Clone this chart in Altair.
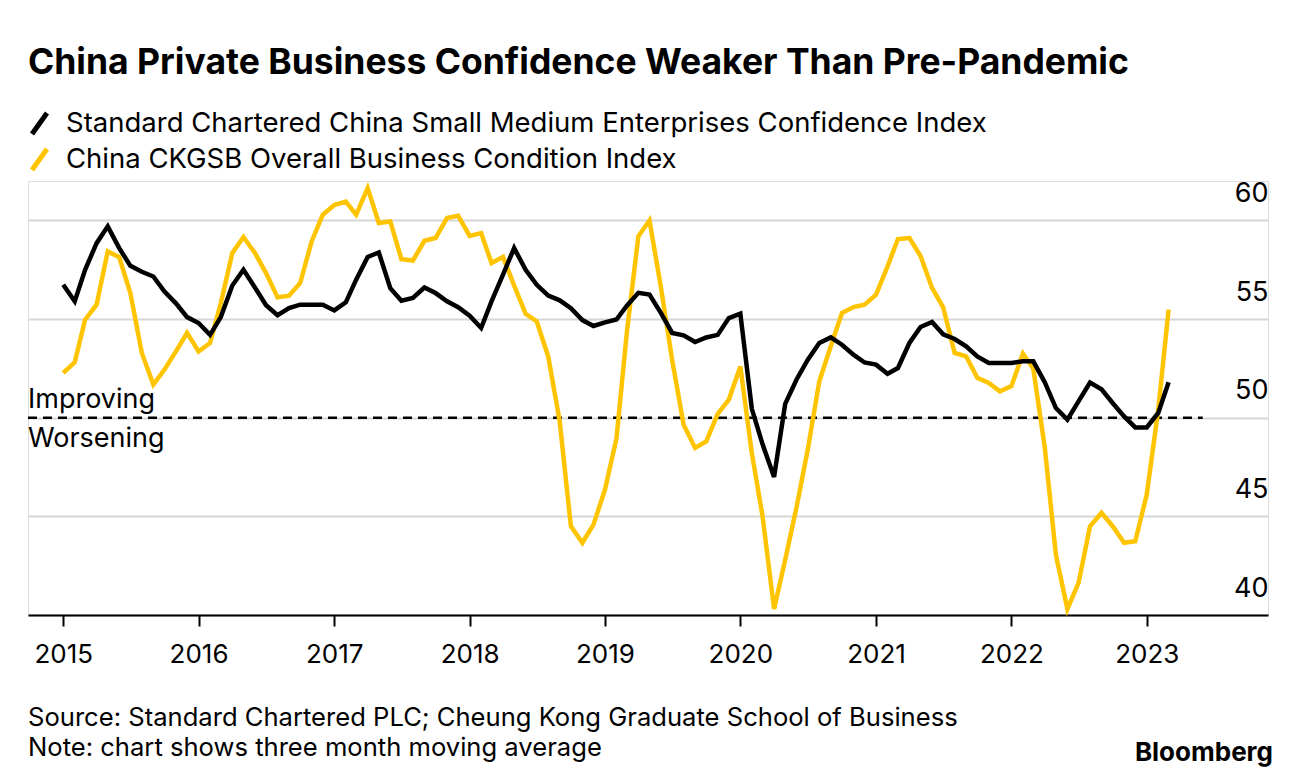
import altair as alt
import pandas as pd

# ---------------- data ----------------
start_month = "2015-01-01"
n_months = 99  # Jan 2015 .. Mar 2023

sc_sme = [56.74, 55.9, 57.5, 58.85, 59.7, 58.6, 57.7, 57.4, 57.16, 56.4, 55.8, 55.1,
          54.8, 54.2, 55.1, 56.7, 57.5, 56.6, 55.7, 55.2, 55.56, 55.73, 55.73, 55.73,
          55.44, 55.85, 57.0, 58.15, 58.38, 56.57, 55.93, 56.07, 56.6, 56.32, 55.9, 55.6,
          55.17, 54.55, 55.9, 57.25, 58.6, 57.5, 56.74, 56.19, 55.95, 55.55, 54.95, 54.65,
          54.83, 54.98, 55.68, 56.33, 56.24, 55.3, 54.3, 54.18, 53.84, 54.07, 54.2, 55.05,
          55.28, 50.45, 48.65, 47.0, 50.7, 51.95, 52.94, 53.79, 54.07, 53.7, 53.2, 52.8,
          52.69, 52.23, 52.52, 53.79, 54.6, 54.85, 54.23, 53.99, 53.62, 53.11, 52.78, 52.78,
          52.78, 52.86, 52.86, 51.8, 50.49, 49.9, 50.83, 51.78, 51.44, 50.75, 50.07, 49.51,
          49.51, 50.24, 51.8]

ckgsb = [52.27, 52.81, 54.97, 55.73, 58.43, 58.14, 56.32, 53.28, 51.68, 52.44, 53.36, 54.3,
         53.36, 53.79, 55.81, 58.35, 59.16, 58.35, 57.33, 56.1, 56.19, 56.83, 58.94, 60.29,
         60.78, 60.96, 60.29, 61.64, 59.87, 59.95, 58.04, 57.97, 58.97, 59.11, 60.12, 60.24,
         59.22, 59.36, 57.84, 58.15, 56.7, 55.27, 54.88, 53.1, 49.8, 44.5, 43.66, 44.58,
         46.36, 48.95, 54.33, 59.2, 60.0, 56.6, 52.94, 49.65, 48.47, 48.8, 50.2, 50.92,
         52.6, 48.2, 45.0, 40.3, 42.8, 45.5, 48.4, 51.85, 53.62, 55.31, 55.61, 55.73,
         56.24, 57.67, 59.06, 59.11, 58.2, 56.58, 55.6, 53.28, 53.11, 52.02, 51.76, 51.34,
         51.6, 53.25, 52.5, 48.5, 43.05, 40.3, 41.63, 44.5, 45.18, 44.5, 43.66, 43.74,
         46.1, 50.41, 55.48]

series_names = ["Standard Chartered China Small Medium Enterprises Confidence Index",
                "China CKGSB Overall Business Condition Index"]
series_colors = ["#000000", "#FFC400"]

year_ticks = list(range(2015, 2024))
y_ticks = [40, 45, 50, 55, 60]
threshold = 50
threshold_start = "2014-09-28"
threshold_end = "2023-06-01"
zone_labels = ["Improving", "Worsening"]

title_text = "China Private Business Confidence Weaker Than Pre-Pandemic"
source_text = "Source: Standard Chartered PLC; Cheung Kong Graduate School of Business"
note_text = "Note: chart shows three month moving average"
brand_text = "Bloomberg"

# ---------------- layout ----------------
W, H = 1240, 434
FONT = "Inter"

dates = pd.date_range(start_month, periods=n_months, freq="MS")
df_sc = pd.DataFrame({"date": dates, "value": sc_sme})
df_ck = pd.DataFrame({"date": dates, "value": ckgsb})

x_scale = alt.Scale(domain=[alt.DateTime(year=2014, month=9, date=28),
                            alt.DateTime(year=2023, month=11, date=24)])
y_scale = alt.Scale(domain=[40, 62], nice=False)

x_axis = alt.Axis(values=[alt.DateTime(year=y, month=1, date=1) for y in year_ticks],
                  format="%Y", title=None, grid=False, domain=True, domainColor="#000000",
                  domainWidth=2, ticks=True, tickColor="#000000", tickWidth=2, tickSize=11,
                  labelFontSize=26, labelFont=FONT, labelColor="#000000",
                  labelBaseline="alphabetic", labelPadding=36, labelFlush=False)
y_axis = alt.Axis(values=y_ticks, orient="right", title=None, grid=True, gridColor="#d6d6d6",
                  gridWidth=2, domain=False, ticks=False, tickSize=0, labelAlign="right",
                  labelPadding=0, labelBaseline="alphabetic", labelOffset=-19,
                  labelFontSize=27, labelFont=FONT, labelColor="#000000")

axes_layer = alt.Chart(df_sc).mark_line(opacity=0).encode(
    x=alt.X("date:T", scale=x_scale, axis=x_axis),
    y=alt.Y("value:Q", scale=y_scale, axis=y_axis),
)

ref_df = pd.DataFrame({"start": [threshold_start], "end": [threshold_end], "value": [threshold]})
ref_rule = alt.Chart(ref_df).mark_rule(color="#000000", strokeWidth=2.5, strokeDash=[9, 6]).encode(
    x=alt.X("start:T", scale=x_scale), x2="end:T", y=alt.Y("value:Q", scale=y_scale))

# yellow first, black on top
lines_y = alt.Chart(df_ck).mark_line(strokeWidth=4.5, color=series_colors[1]).encode(
    x=alt.X("date:T", scale=x_scale), y=alt.Y("value:Q", scale=y_scale))
lines_b = alt.Chart(df_sc).mark_line(strokeWidth=4.5, color=series_colors[0]).encode(
    x=alt.X("date:T", scale=x_scale), y=alt.Y("value:Q", scale=y_scale))

zone_df = pd.DataFrame({"value": [threshold, threshold], "label": zone_labels})
improving = alt.Chart(zone_df.iloc[[0]]).mark_text(align="left", baseline="alphabetic", dy=-10,
                                                   fontSize=27, font=FONT, color="#000000").encode(
    x=alt.value(0), y=alt.Y("value:Q", scale=y_scale), text="label:N")
worsening = alt.Chart(zone_df.iloc[[1]]).mark_text(align="left", baseline="alphabetic", dy=29,
                                                   fontSize=27, font=FONT, color="#000000").encode(
    x=alt.value(0), y=alt.Y("value:Q", scale=y_scale), text="label:N")

one = pd.DataFrame({"a": [0]})

def txt(s, x, y, size, weight="normal", align="left"):
    return alt.Chart(one).mark_text(text=s, align=align, baseline="alphabetic", fontSize=size,
                                    fontWeight=weight, font=FONT, color="#000000").encode(
        x=alt.value(x), y=alt.value(y))

def slash(color, y_bottom):
    return alt.Chart(one).mark_rule(color=color, strokeWidth=5, strokeCap="butt").encode(
        x=alt.value(4), x2=alt.value(19), y=alt.value(y_bottom), y2=alt.value(y_bottom - 21))

title = txt(title_text, 0, -107, 35.5, "bold")
leg1 = txt(series_names[0], 38, -49, 27.5)
leg2 = txt(series_names[1], 38, -13, 27.5)
src = txt(source_text, 0, 545, 25.6)
note = txt(note_text, 0, 575, 25.6)
brand = txt(brand_text, 1245, 580, 26, "bold", "right")

chart = alt.layer(
    axes_layer, ref_rule, lines_y, lines_b, improving, worsening,
    title, leg1, leg2, slash(series_colors[0], -47), slash(series_colors[1], -11),
    src, note, brand,
).properties(
    width=W, height=H,
    autosize=alt.AutoSizeParams(type="none"),
    padding={"left": 20, "top": 173, "right": 20, "bottom": 161},
).configure_view(strokeWidth=0).configure(background="#ffffff")

chart.save("out.html", embed_options={"renderer": "svg", "actions": False})
